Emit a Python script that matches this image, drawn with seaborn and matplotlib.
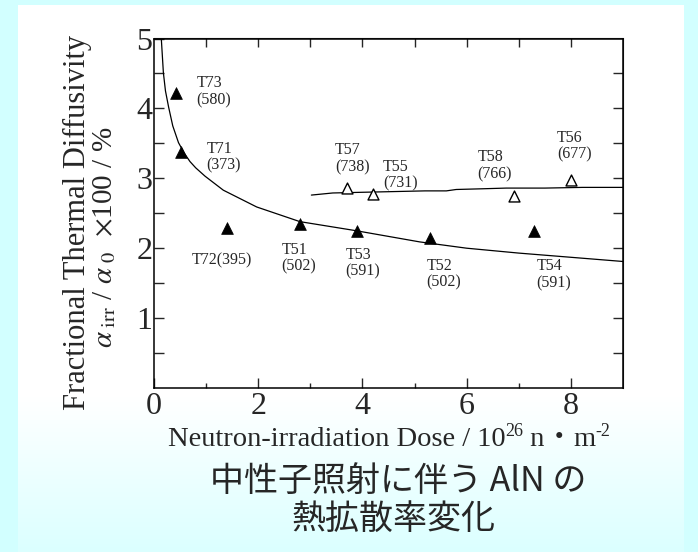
import numpy as np
import pandas as pd
import matplotlib
matplotlib.use('Agg')
import matplotlib.pyplot as plt
import seaborn as sns

# облучённые образцы (закрашенные треугольники)
dose_low = [0.42, 0.51, 1.41, 2.80, 3.90, 5.30, 7.30]
diff_low = [4.22, 3.37, 2.29, 2.34, 2.25, 2.14, 2.24]
names_low = ['T73\n(580)', 'T71\n(373)', 'T72(395)', 'T51\n(502)',
             'T53\n(591)', 'T52\n(502)', 'T54\n(591)']

# образцы с высокой температурой облучения (пустые треугольники)
dose_high = [3.70, 4.20, 6.90, 8.00]
diff_high = [2.86, 2.78, 2.74, 2.97]
names_high = ['T57\n(738)', 'T55\n(731)', 'T58\n(766)', 'T56\n(677)']

# кривые
curve_low_x = [0.14, 0.18, 0.22, 0.28, 0.36, 0.47, 0.58, 0.69, 0.80, 0.98,
               1.33, 1.97, 2.80, 3.88, 5.10, 6.00, 7.00, 8.00, 9.00]
curve_low_y = [5.00, 4.51, 4.25, 4.02, 3.75, 3.51, 3.36, 3.24, 3.15, 3.03,
               2.83, 2.59, 2.38, 2.25, 2.09, 2.00, 1.93, 1.87, 1.81]
curve_high_x = [3.02, 3.43, 4.00, 4.60, 5.20, 5.61, 5.80, 6.30, 6.76, 7.50, 8.22, 9.00]
curve_high_y = [2.76, 2.79, 2.80, 2.81, 2.82, 2.82, 2.84, 2.85, 2.86, 2.86, 2.87, 2.87]

x_ticks = [0, 2, 4, 6, 8]
y_ticks = [1, 2, 3, 4, 5]

# где стоят подписи (левый край, центр по вертикали)
label_pos_low = [(0.82, 4.24), (1.01, 3.30), (0.72, 1.82), (2.45, 1.86),
                 (3.67, 1.79), (5.23, 1.63), (7.34, 1.62)]
label_pos_high = [(3.47, 3.28), (4.39, 3.05), (6.21, 3.18), (7.73, 3.46)]

df_low = pd.DataFrame({'dose': dose_low, 'val': diff_low})
df_high = pd.DataFrame({'dose': dose_high, 'val': diff_high})
df_cl = pd.DataFrame({'x': curve_low_x, 'y': curve_low_y})
df_ch = pd.DataFrame({'x': curve_high_x, 'y': curve_high_y})

sns.set_style('ticks')
plt.rcParams['font.family'] = ['Liberation Serif', 'DejaVu Serif']
plt.rcParams['mathtext.fontset'] = 'stix'

W, H = 698, 552
fig = plt.figure(figsize=(W / 100, H / 100), dpi=100)
fig.patch.set_facecolor('#D2FFFF')

# фон: белая панель с переходом в голубой внизу
bg = fig.add_axes([0, 0, 1, 1], zorder=-10)
bg.axis('off')
bg.set_xlim(0, W)
bg.set_ylim(H, 0)
grad = np.ones((200, 1, 3))
t = np.linspace(0, 1, 200)
fade = np.clip((t - 0.72) / 0.28, 0, 1)
grad[:, 0, 0] = 1 - fade * (1 - 0.86)
bg.imshow(grad, extent=[18, 684, H, 5], aspect='auto', zorder=0)

ax = fig.add_axes([154 / W, 1 - 388 / H, (623 - 154) / W, (388 - 38.5) / H])
ax.set_facecolor('none')

sns.lineplot(data=df_cl, x='x', y='y', sort=False, estimator=None,
             color='black', linewidth=0.9, ax=ax)
sns.lineplot(data=df_ch, x='x', y='y', sort=False, estimator=None,
             color='black', linewidth=0.9, ax=ax)
sns.scatterplot(data=df_low, x='dose', y='val', marker='^', s=72,
                color='black', edgecolor='black', linewidth=0.5, ax=ax, zorder=5)
sns.scatterplot(data=df_high, x='dose', y='val', marker='^', s=62,
                facecolor='white', edgecolor='black', linewidth=1.0, ax=ax, zorder=5)

for (lx, ly), s in zip(label_pos_low + label_pos_high, names_low + names_high):
    ax.text(lx, ly, s, ha='left', va='center', fontsize=11.5, linespacing=1.05)

ax.set_xlim(0, 9)
ax.set_ylim(0, 5)
ax.set_xlabel('')
ax.set_ylabel('')
ax.set_xticks(x_ticks)
ax.set_xticks([1, 3, 5, 7], minor=True)
ax.set_yticks(y_ticks)
ax.set_yticks([0.5, 1.5, 2.5, 3.5, 4.5], minor=True)
ax.tick_params(axis='x', which='major', direction='in', length=7.5, width=1,
               labelsize=23, pad=3, top=False)
ax.tick_params(axis='x', which='minor', direction='in', length=3.8, width=1, top=False)
ax.tick_params(axis='y', which='both', direction='in', length=7.5, width=1,
               labelsize=23, pad=1, right=False)
for sp in ax.spines.values():
    sp.set_visible(True)
    sp.set_linewidth(1.1)
    sp.set_color('black')

top = ax.secondary_xaxis('top')
top.set_xticks([1, 2, 3, 4, 5, 6, 7, 8])
top.tick_params(direction='in', length=6.5, width=1, labeltop=False)
right = ax.secondary_yaxis('right')
right.set_yticks([0.5, 1, 1.5, 2, 2.5, 3, 3.5, 4, 4.5])
right.tick_params(direction='in', length=7, width=1, labelright=False)

# подписи осей
fig.text(77 / W, 1 - 222 / H, 'Fractional Thermal Diffusivity', rotation=90,
         ha='center', va='center', fontsize=22)
fig.text(105 / W, 1 - 237 / H,
         r'$\alpha_{\ \mathrm{irr}}$ / $\alpha_{\ 0}$  $\times$100 / %',
         rotation=90, ha='center', va='center', fontsize=21)

# подпись оси X собираем по кускам (там японская точка)
renderer = fig.canvas.get_renderer()
runs = [('Neutron-irradiation Dose / 10', 20.5, 0),
        ('26', 13, 10),
        (' n', 20.5, 0),
        ('\u30fb', 20.5, 0),
        ('m', 20.5, 0),
        ('-2', 13, 10)]
pieces = []
cur = 0
for s, size, rise in runs:
    txt = fig.text(0, 0, s, fontsize=size, ha='left', va='baseline',
                   family=['Liberation Serif', 'Noto Sans CJK JP'])
    w = txt.get_window_extent(renderer).width
    pieces.append((txt, cur, rise))
    cur += w
x0 = 389 - cur / 2
base = 446
for txt, off, rise in pieces:
    txt.set_position(((x0 + off) / W, 1 - (base - rise) / H))

# японский заголовок
fig.text(398 / W, 1 - 481 / H, '中性子照射に伴う AlN の', ha='center', va='center',
         fontsize=24.5, family=['Noto Sans CJK JP'])
fig.text(394 / W, 1 - 519 / H, '熱拡散率変化', ha='center', va='center',
         fontsize=24.5, family=['Noto Sans CJK JP'])

plt.savefig('out.png', dpi=100, facecolor=fig.get_facecolor())
